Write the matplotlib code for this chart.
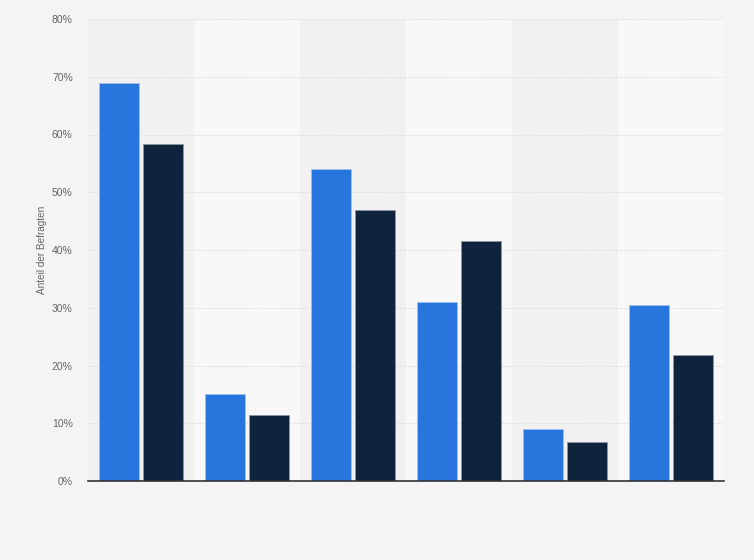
import numpy as np
import matplotlib.pyplot as plt
from matplotlib.ticker import FuncFormatter

plt.rcParams["font.family"] = ["Liberation Sans", "DejaVu Sans"]

# Data
groups = ["1", "2", "3", "4", "5", "6"]
series_a = [69, 15, 54, 31, 9, 30.4]
series_b = [58.3, 11.4, 47, 41.5, 6.7, 21.8]

color_a = "#2876dd"
color_b = "#0f243c"

fig = plt.figure(figsize=(7.54, 5.6), dpi=100, facecolor="#f4f4f4")
ax = fig.add_axes([88 / 754, 79 / 560, 636 / 754, 462 / 560])
ax.set_facecolor("#f4f4f4")

x = np.arange(len(groups))
width = 0.377
offset = 0.208

# alternating column bands
for i in x:
    shade = "#f1f1f1" if i % 2 == 0 else "#f8f8f8"
    ax.axvspan(i - 0.5, i + 0.5, color=shade, zorder=0, lw=0)

ax.bar(x - offset, series_a, width, color=color_a, edgecolor="#9fc0ee",
       linewidth=0.6, zorder=3)
ax.bar(x + offset, series_b, width, color=color_b, edgecolor="#8a96a4",
       linewidth=0.6, zorder=3)

ax.set_xlim(-0.5, len(groups) - 0.5)
ax.set_ylim(0, 80)
ax.set_yticks(np.arange(0, 81, 10))
ax.yaxis.set_major_formatter(FuncFormatter(lambda v, p: f"{v:.0f}%"))
ax.grid(axis="y", color="#d8d8d8", linestyle=(0, (1, 1.5)), linewidth=0.8, zorder=1)
ax.set_xticks([])

for s in ["top", "right", "left"]:
    ax.spines[s].set_visible(False)
ax.spines["bottom"].set_color("#333333")
ax.spines["bottom"].set_linewidth(1.2)
ax.spines["bottom"].set_zorder(4)

ax.tick_params(axis="y", length=0, pad=11, labelsize=7.5, labelcolor="#666666")
ax.set_ylabel("Anteil der Befragten", fontsize=7.2, color="#666666", labelpad=3.5)

fig.savefig("out.png", dpi=100, facecolor=fig.get_facecolor())
